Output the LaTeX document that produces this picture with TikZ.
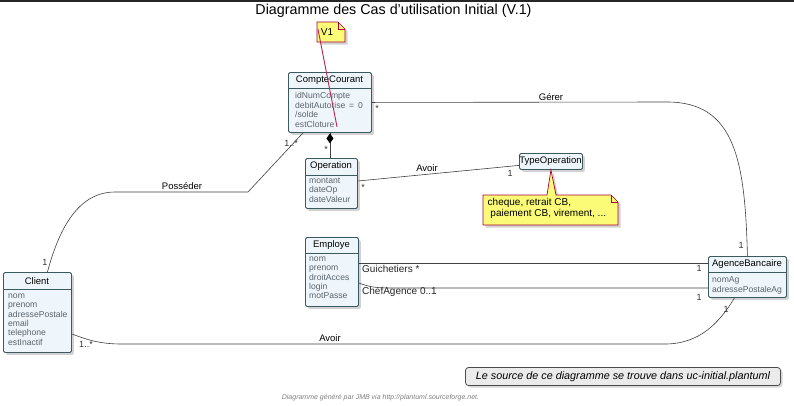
\documentclass[tikz,border=0pt]{standalone}
\usepackage{fontspec}
\setmainfont{Liberation Sans}
\usetikzlibrary{calc,shadows}
\definecolor{clsfill}{HTML}{EEF6FC}
\definecolor{clsdraw}{HTML}{3A5A60}
\definecolor{notefill}{HTML}{FBFB77}
\definecolor{notedraw}{HTML}{A80036}
\definecolor{attrcol}{HTML}{5A646C}
\definecolor{edgecol}{HTML}{404040}
\tikzset{
  clsbox/.style={draw=clsdraw, line width=0.9pt, fill=clsfill, rounded corners=1.5pt, inner sep=0pt, anchor=north west,
    drop shadow={shadow xshift=2.5pt, shadow yshift=-2.5pt, fill=black!35, opacity=0.5}},
  hdr/.style={font=\fontsize{9.5}{11}\selectfont, inner sep=0pt},
  attrs/.style={font=\fontsize{8.6}{9.4}\selectfont, text=attrcol, align=left, inner sep=0pt, anchor=north west},
  sepline/.style={draw=clsdraw, line width=0.9pt},
  edge/.style={draw=edgecol, line width=0.6pt},
  elabel/.style={font=\fontsize{9.5}{11}\selectfont, inner sep=0pt},
  mult/.style={font=\fontsize{9}{10}\selectfont, inner sep=0pt, text=black!80},
  rolelabel/.style={font=\fontsize{10}{11}\selectfont, inner sep=0pt, text=black!85, anchor=west},
  notebox/.style={draw=notedraw, line width=0.7pt, fill=notefill,
    drop shadow={shadow xshift=2.5pt, shadow yshift=-2.5pt, fill=black!35, opacity=0.5}},
  notelink/.style={draw=notedraw!85!white, line width=0.9pt},
}
\begin{document}
\begin{tikzpicture}[x=1pt,y=-1pt]
\useasboundingbox (0,0) rectangle (794,405);
\fill[white] (0,0) rectangle (794,405);
\fill[black!85] (0,0) rectangle (794,2);

% title
\node[font=\fontsize{14.3}{16}\selectfont, inner sep=0pt] (title) at (393.5,11) {Diagramme des Cas d'utilisation Initial (V.1)};

% ---- classes ----
% CompteCourant
\node[clsbox, minimum width=83, minimum height=60] (cc) at (288,72) {};
\draw[sepline] (288,88) -- (371,88);
\node[hdr] (cch) at (329.5,80) {CompteCourant};
\node[attrs] (cca) at (295,92.5) {idNumCompte\\debitAutorise \,=\, 0\\/solde\\estCloture};

% Operation
\node[clsbox, minimum width=52, minimum height=50] (op) at (305,158) {};
\draw[sepline] (305,175) -- (357,175);
\node[hdr] (oph) at (331,166) {Operation};
\node[attrs] (opa) at (309,177.5) {montant\\dateOp\\dateValeur};

% TypeOperation
\node[clsbox, minimum width=63, minimum height=16] (to) at (519,153) {};
\node[hdr] (toh) at (550.5,161) {TypeOperation};

% Employe
\node[clsbox, minimum width=53, minimum height=69] (em) at (305,237) {};
\draw[sepline] (305,253) -- (358,253);
\node[hdr] (emh) at (331.5,245) {Employe};
\node[attrs] (ema) at (309,256.5) {nom\\prenom\\droitAcces\\login\\motPasse};

% AgenceBancaire
\node[clsbox, minimum width=78, minimum height=41] (ag) at (708,256) {};
\draw[sepline] (708,272) -- (786,272);
\node[hdr] (agh) at (747,264) {AgenceBancaire};
\node[attrs] (aga) at (712,276.5) {nomAg\\adressePostaleAg};

% Client
\node[clsbox, minimum width=68, minimum height=80] (cl) at (3,272) {};
\draw[sepline] (3,289) -- (71,289);
\node[hdr] (clh) at (37,281) {Client};
\node[attrs] (cla) at (8,293.5) {nom\\prenom\\adressePostale\\email\\telephone\\estInactif};

% ---- notes ----
\node[inner sep=0pt, minimum width=28, minimum height=20, anchor=north west] (v1) at (317,22) {};
\path[notebox] (317,22) -- (338,22) -- (345,29) -- (345,42) -- (317,42) -- cycle;
\draw[notedraw, line width=0.6pt] (338,22) -- (338,29) -- (345,29);
\node[font=\fontsize{10}{11}\selectfont, inner sep=0pt] (v1t) at (327,32.5) {V1};
\draw[notelink] ($(v1.west)+(1,-3)$) -- ($(cc.south west)+(49,-6)$);

\node[inner sep=0pt, minimum width=135, minimum height=30, anchor=north west] (tn) at (483,195) {};
\path[notebox] (483,195) -- (547,195) -- (to.south) -- (556,195) -- (611,195) -- (618,202) -- (618,225) -- (483,225) -- cycle;
\draw[notedraw, line width=0.6pt] (611,195) -- (611,202) -- (618,202);
\node[font=\fontsize{10}{11}\selectfont, align=left, inner sep=0pt, anchor=north west] (tnt) at (487.5,198.5) {cheque, retrait CB,\\\ paiement CB, virement, ...};

% ---- connectors ----
% composition CompteCourant - Operation
\draw[edge] (cc.south) -- (op.north -| cc.south);
\fill[black] ($(cc.south)+(0,0.5)$) -- ++(3.5,5) -- ++(-3.5,5) -- ++(-3.5,-5) -- cycle;
\node[mult] (m1) at (326,149) {*};

% Posseder
\draw[edge] ($(cl.north)+(10,0)$) .. controls (60,225) and (80,192) .. (115,192) -- (248,192) -- ($(cc.south west)+(15,0)$);
\node[elabel] (lp) at (182,186) {Posséder};
\node[mult] (m2) at (45,262) {1};
\node[mult] (m3) at (291,143) {1..*};

% Gerer
\draw[edge] (cc.east) -- (667,102) .. controls (735,102) and (745,160) .. (ag.north);
\node[elabel] (lg) at (551,97) {Gérer};
\node[mult] (m4) at (377,108) {*};
\node[mult] (m5) at (741,245) {1};

% Avoir Operation - TypeOperation
\draw[edge] ($(op.north east)+(0,23)$) -- ($(to.south west)+(0,-4.5)$);
\node[elabel] (la1) at (427,168) {Avoir};
\node[mult] (m6) at (363,187) {*};
\node[mult] (m7) at (510,173) {1};

% Guichetiers
\draw[edge] ($(em.north east)+(0,26)$) -- ($(ag.north west)+(0,7)$);
\node[rolelabel] (lgu) at (362,269) {Guichetiers *};
\node[mult] (m8) at (699,268) {1};

% ChefAgence
\draw[edge] ($(em.north east)+(0,46)$) .. controls (368,286.5) and (375,288) .. (390,288) -- ($(ag.north west)+(0,32)$);
\node[rolelabel] (lch) at (362,292) {ChefAgence 0..1};
\node[mult] (m9) at (699,297) {1};

% Avoir Client - AgenceBancaire
\draw[edge] ($(cl.north east)+(0,62)$) .. controls (88,340) and (100,344) .. (122,344) -- (665,344) .. controls (700,344) and (720,322) .. ($(ag.south)+(-13,0)$);
\node[elabel] (la2) at (330,338.5) {Avoir};
\node[mult] (m10) at (86,344) {1..*};
\node[mult] (m11) at (726,309) {1};

% ---- bottom notes ----
\node[draw=black!70, line width=0.8pt, fill=black!8, rounded corners=3pt, minimum width=315, minimum height=18, inner sep=0pt,
  font=\fontsize{10.8}{12}\selectfont\itshape,
  drop shadow={shadow xshift=2pt, shadow yshift=-2pt, fill=black!30, opacity=0.5}] (src) at (623,376.5) {Le source de ce diagramme se trouve dans uc-initial.plantuml};
\node[font=\fontsize{7}{8}\selectfont\itshape, text=black!50, inner sep=0pt] (foot) at (380.5,397.5) {Diagramme généré par JMB via http://plantuml.sourceforge.net.};
\end{tikzpicture}
\end{document}
